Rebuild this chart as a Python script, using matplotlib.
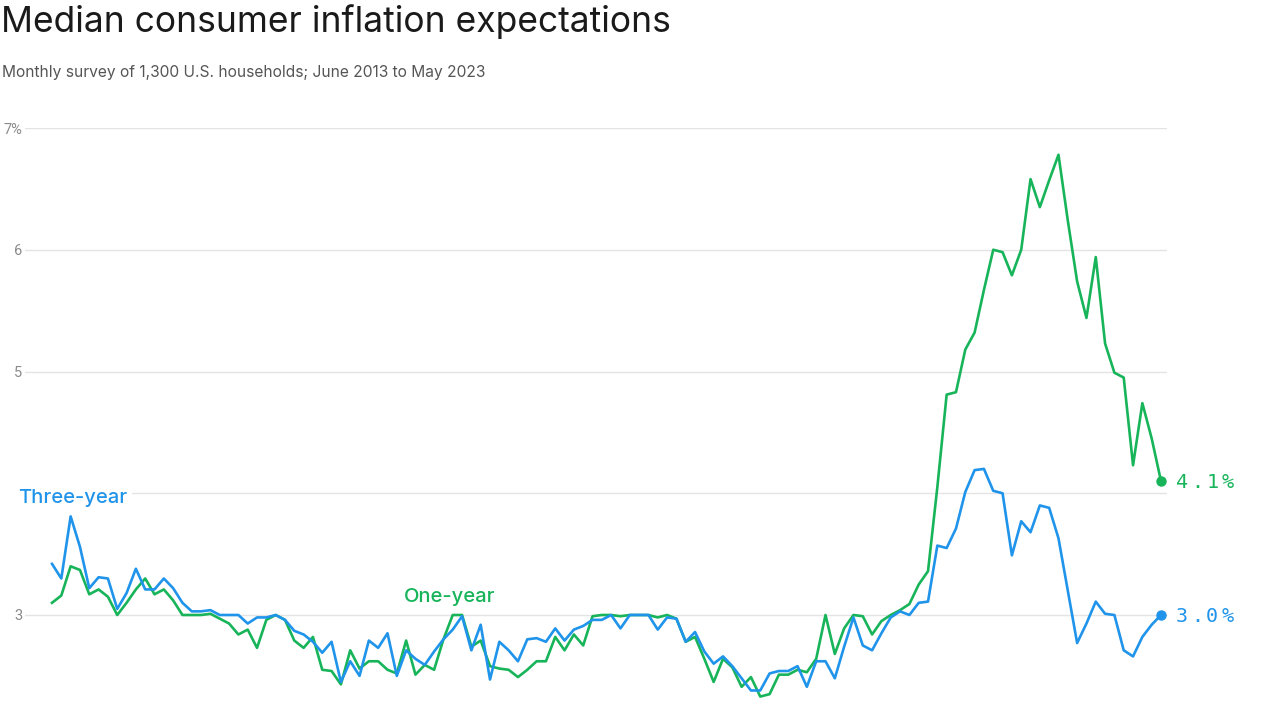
import matplotlib.pyplot as plt
import numpy as np

# NY Fed Survey of Consumer Expectations, June 2013 - May 2023
one_year = [
    3.10, 3.16, 3.40, 3.37, 3.17, 3.21, 3.15, 3.00, 3.10, 3.21,
    3.30, 3.17, 3.21, 3.12, 3.00, 3.00, 3.00, 3.01, 2.97, 2.93,
    2.84, 2.88, 2.73, 2.96, 3.00, 2.96, 2.79, 2.73, 2.82, 2.55,
    2.54, 2.43, 2.71, 2.56, 2.62, 2.62, 2.55, 2.52, 2.79, 2.51,
    2.59, 2.55, 2.80, 3.00, 3.00, 2.74, 2.79, 2.58, 2.56, 2.55,
    2.49, 2.55, 2.62, 2.62, 2.82, 2.71, 2.84, 2.75, 2.99, 3.00,
    3.00, 2.99, 3.00, 3.00, 3.00, 2.98, 3.00, 2.97, 2.78, 2.82,
    2.64, 2.45, 2.64, 2.57, 2.41, 2.49, 2.33, 2.35, 2.51, 2.51,
    2.55, 2.53, 2.64, 3.00, 2.68, 2.89, 3.00, 2.99, 2.84, 2.95,
    3.00, 3.04, 3.09, 3.25, 3.36, 4.05, 4.81, 4.83, 5.18, 5.32,
    5.67, 6.00, 5.98, 5.79, 6.00, 6.58, 6.35, 6.57, 6.78, 6.24,
    5.74, 5.44, 5.94, 5.23, 4.99, 4.95, 4.23, 4.74, 4.45, 4.10,
]
three_year = [
    3.42, 3.30, 3.81, 3.56, 3.22, 3.31, 3.30, 3.05, 3.18, 3.38,
    3.21, 3.21, 3.30, 3.22, 3.10, 3.03, 3.03, 3.04, 3.00, 3.00,
    3.00, 2.93, 2.98, 2.98, 3.00, 2.96, 2.87, 2.84, 2.78, 2.69,
    2.78, 2.45, 2.62, 2.50, 2.79, 2.73, 2.85, 2.50, 2.71, 2.64,
    2.59, 2.70, 2.80, 2.88, 2.99, 2.71, 2.92, 2.47, 2.78, 2.71,
    2.62, 2.80, 2.81, 2.78, 2.89, 2.79, 2.88, 2.91, 2.96, 2.96,
    3.00, 2.89, 3.00, 3.00, 3.00, 2.88, 2.98, 2.97, 2.78, 2.86,
    2.70, 2.60, 2.66, 2.58, 2.48, 2.38, 2.38, 2.52, 2.54, 2.54,
    2.58, 2.41, 2.62, 2.62, 2.48, 2.74, 2.98, 2.75, 2.71, 2.85,
    2.98, 3.03, 3.00, 3.10, 3.11, 3.57, 3.55, 3.71, 4.01, 4.19,
    4.20, 4.02, 4.00, 3.49, 3.77, 3.68, 3.90, 3.88, 3.63, 3.20,
    2.77, 2.93, 3.11, 3.01, 3.00, 2.71, 2.66, 2.82, 2.92, 3.00,
]
months = np.arange(len(one_year))
y_ticks = [3, 4, 5, 6, 7]
y_tick_labels = ['3', '4', '5', '6', '7%']

green = '#17b45a'
blue = '#1f94ea'

W, H = 1280, 719
fig = plt.figure(figsize=(W / 100, H / 100), dpi=100)

# axes placed in pixel terms: gridlines run 25px -> 1167px, 7% at y=128, 3 at y=615
px_per_unit = 121.75
y_top, y_bot = 7.0, 2.2
ax_top = 128
ax_bot = 615 + (3 - y_bot) * px_per_unit
ax = fig.add_axes([25 / W, 1 - ax_bot / H, (1167 - 25) / W, (ax_bot - ax_top) / H])
step = 9.32
ax.set_xlim(-(52 - 25) / step, 119 + (1167 - 1161) / step)
ax.set_ylim(y_bot, y_top)

ax.plot(months, one_year, color=green, lw=1.9, clip_on=False, zorder=3)
ax.plot(months, three_year, color=blue, lw=1.9, clip_on=False, zorder=4)
ax.plot(months[-1], one_year[-1], 'o', color=green, ms=6.5, clip_on=False, zorder=5)
ax.plot(months[-1], three_year[-1], 'o', color=blue, ms=6.5, clip_on=False, zorder=5)

# fig settings
for s in ax.spines.values():
    s.set_visible(False)
ax.set_xticks([])
ax.set_yticks(y_ticks)
ax.set_yticklabels(y_tick_labels, fontsize=10.5, color='#8a8a8a', family='Roboto')
ax.tick_params(axis='y', length=0, pad=2)
ax.grid(axis='y', color='#e4e4e4', lw=1)
ax.set_axisbelow(True)

# series labels
ax.text(-3.6, 3.96, 'Three-year', color=blue, fontsize=14.5, family='Inter',
        fontweight='medium', va='center', ha='left', zorder=6,
        bbox=dict(facecolor='white', edgecolor='none', pad=3))
ax.text(37.8, 3.15, 'One-year', color=green, fontsize=14.5, family='Inter',
        fontweight='medium', va='center', ha='left', zorder=6)

# end values, spaced out monospace
for val, col in [(one_year[-1], green), (three_year[-1], blue)]:
    label = f'{val:.1f}%'
    for k, ch in enumerate(label):
        ax.annotate(ch, (months[-1], val), xytext=(10.5 + k * 11, -1),
                    textcoords='offset points', color=col, fontsize=14.5,
                    family='DejaVu Sans Mono', va='center', ha='left',
                    annotation_clip=False)

fig.text(1 / W, 1 - 22 / H, 'Median consumer inflation expectations',
         fontsize=25.5, family='Inter', color='#1a1a1a', va='center', ha='left')
fig.text(2 / W, 1 - 73 / H,
         'Monthly survey of 1,300 U.S. households; June 2013 to May 2023',
         fontsize=11.2, family='Inter', color='#555555', va='center', ha='left')

fig.savefig('out.png', dpi=100, facecolor='white')
